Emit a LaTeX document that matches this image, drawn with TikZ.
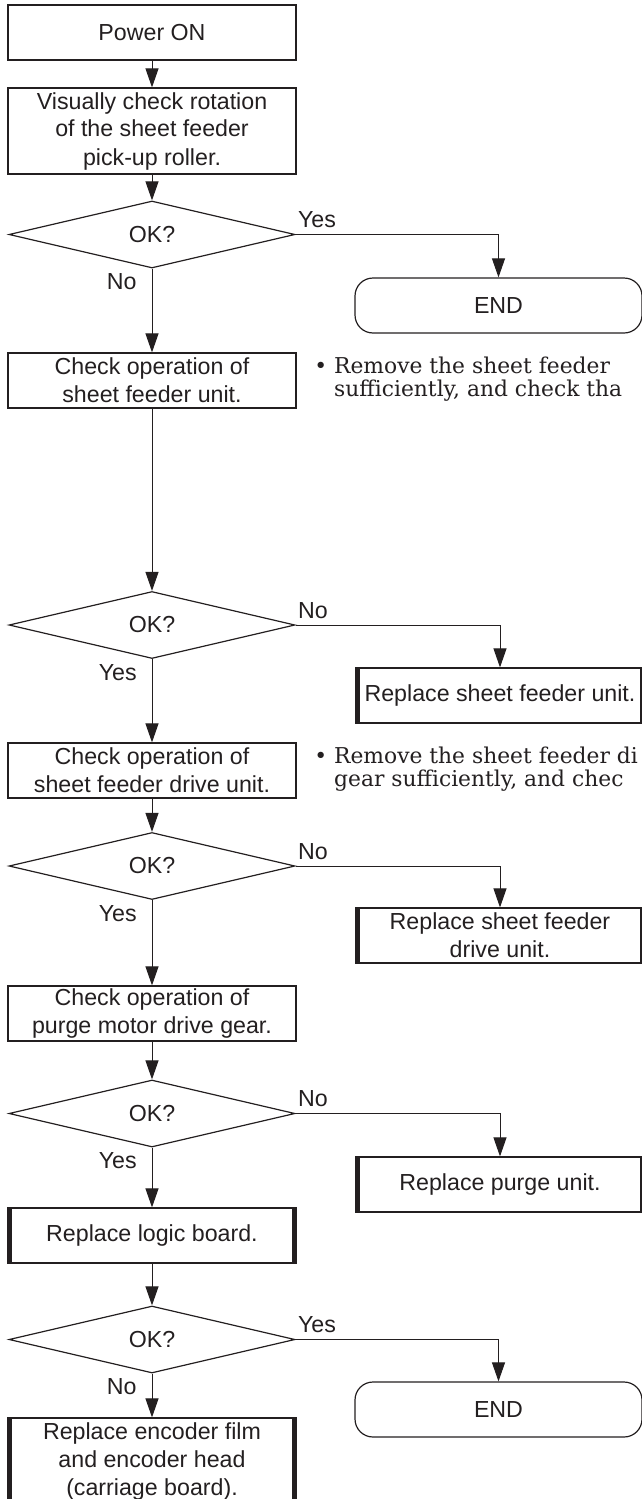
\documentclass[tikz,border=0pt]{standalone}
\usepackage{fontspec}
\setmainfont{Liberation Sans}
\newfontfamily\notefont{DejaVu Serif}
\usepackage{tikz}
\usetikzlibrary{arrows.meta, positioning, shapes.geometric}
\definecolor{ink}{HTML}{231F20}

\begin{document}
\begin{tikzpicture}[
        x=0.5pt, y=-0.5pt,
        font=\fontsize{11.6}{14}\selectfont, text=ink,
        block/.style={rectangle, draw=ink, line width=0.6pt, align=center, minimum width=144pt, minimum height=27.5pt, inner sep=1pt},
        tallblock/.style={block, minimum height=43pt},
        decision/.style={diamond, draw=ink, line width=0.6pt, inner sep=0pt, minimum width=143pt, minimum height=33.5pt},
        terminal/.style={rectangle, draw=ink, line width=0.6pt, rounded corners=9pt, minimum width=143.5pt, minimum height=27.5pt},
        replace/.style={block, path picture={
            \draw[ink, line width=4pt] (path picture bounding box.north west) -- (path picture bounding box.south west)
                (path picture bounding box.north east) -- (path picture bounding box.south east);}},
        arrow/.style={-{Triangle[length=9.5pt, width=6.5pt]}, draw=ink, line width=0.5pt},
        side/.style={anchor=base west, inner sep=0pt, xshift=1pt, yshift=3.5pt},
        down/.style={anchor=base east, inner sep=0pt, xshift=-7.5pt, yshift=-10.5pt},
        note/.style={anchor=west, align=left, inner sep=0pt, font=\notefont\fontsize{10.9}{11.8}\selectfont}
    ]
        \useasboundingbox (0,0) rectangle (642,1499);
        \clip (0,0) rectangle (642,1499);

        % main column
        \node[block] (power) at (152,32.5) {Power ON};
        \node[tallblock] (visual) at (152,131) {Visually check rotation\\of the sheet feeder\\pick-up roller.};
        \node[decision] (ok1) at (152,234.5) {OK?};
        \node[block] (check1) at (152,380.5) {Check operation of\\sheet feeder unit.};
        \node[decision] (ok2) at (152,625) {OK?};
        \node[block] (check2) at (152,770.5) {Check operation of\\sheet feeder drive unit.};
        \node[decision] (ok3) at (152,866) {OK?};
        \node[block] (check3) at (152,1013.5) {Check operation of\\purge motor drive gear.};
        \node[decision] (ok4) at (152,1113.5) {OK?};
        \node[replace] (logic) at (152,1235.5) {Replace logic board.};
        \node[decision] (ok5) at (152,1339.5) {OK?};
        \node[replace, minimum height=43pt] (encoder) at (152,1461) {Replace encoder film\\and encoder head\\(carriage board).};

        % right column
        \node[terminal] (end1) at (498.5,305.5) {END};
        \node[replace] (rep1) at (500,695.5) {Replace sheet feeder unit.};
        \node[replace] (rep2) at (500,935.5) {Replace sheet feeder\\drive unit.};
        \node[replace] (rep3) at (500,1184.5) {Replace purge unit.};
        \node[terminal] (end2) at (498.5,1409.5) {END};

        % notes
        \node[note] (note1) at (314,379) {•\ Remove the sheet feeder\\\hphantom{•\ }sufficiently, and check tha};
        \node[note] (note2) at (314,769) {•\ Remove the sheet feeder di\\\hphantom{•\ }gear sufficiently, and chec};

        \draw[arrow] (power) -- (visual);
        \draw[arrow] (visual) -- (ok1);
        \draw[arrow] (ok1) -- (check1);
        \draw[arrow] (ok1.east) -| (end1.north);
        \draw[arrow] (check1) -- (ok2);
        \draw[arrow] (ok2.east) -| (rep1.north);
        \draw[arrow] (ok2) -- (check2);
        \draw[arrow] (check2) -- (ok3);
        \draw[arrow] (ok3.east) -| (rep2.north);
        \draw[arrow] (ok3) -- (check3);
        \draw[arrow] (check3) -- (ok4);
        \draw[arrow] (ok4.east) -| (rep3.north);
        \draw[arrow] (ok4) -- (logic);
        \draw[arrow] (logic) -- (ok5);
        \draw[arrow] (ok5.east) -| (end2.north);
        \draw[arrow] (ok5) -- (encoder);

        \node[side] at (ok1.east) {Yes};
        \node[down] at (ok1.south) {No};
        \node[side] at (ok2.east) {No};
        \node[down] at (ok2.south) {Yes};
        \node[side] at (ok3.east) {No};
        \node[down] at (ok3.south) {Yes};
        \node[side] at (ok4.east) {No};
        \node[down] at (ok4.south) {Yes};
        \node[side] at (ok5.east) {Yes};
        \node[down] at (ok5.south) {No};
    \end{tikzpicture}
\end{document}
